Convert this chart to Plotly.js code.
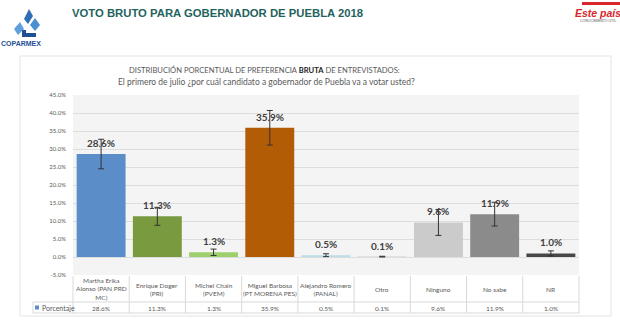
<!DOCTYPE html>
<html><head><meta charset="utf-8">
<script src="https://cdn.plot.ly/plotly-3.0.1.min.js"></script>
<style>html,body{margin:0;padding:0;background:#fff;}#chart{width:620px;height:323px;}</style>
</head><body><div id="chart"></div>
<script>
const categories = ["Martha Erika Alonso (PAN PRD MC)","Enrique Doger (PRI)","Michel Chain (PVEM)","Miguel Barbosa (PT MORENA PES)","Alejandro Romero (PANAL)","Otro","Ninguno","No sabe","NR"];
const tableLabels = ["Martha Erika<br>Alonso (PAN PRD<br>MC)","Enrique Doger<br>(PRI)","Michel Chain<br>(PVEM)","Miguel Barbosa<br>(PT MORENA PES)","Alejandro Romero<br>(PANAL)","Otro","Ninguno","No sabe","NR"];
const values = [28.6, 11.3, 1.3, 35.9, 0.5, 0.1, 9.6, 11.9, 1.0];
const errors = [4.1, 2.5, 0.9, 4.8, 0.4, 0.1, 3.6, 3.3, 0.7];
const barColors = ["#5b8ec8","#7a9a40","#9dd06c","#b35c06","#b9dde9","#a6a6a6","#cbcbcb","#8b8b8b","#474747"];
const yTicks = [-5,0,5,10,15,20,25,30,35,40,45];

const W=620,H=323, L=73, R=41, T=95, B=48;
const pw=W-L-R, ph=H-T-B;
const px = p => (p-L)/pw;
const py = p => (H-B-p)/ph;
const grid='#d9d9d9', txt='#595959';
const fnt='Lato, "Open Sans", sans-serif';

const shapes=[], ann=[];
// outer panel
shapes.push({type:'rect',xref:'paper',yref:'paper',x0:px(20),x1:px(611),y0:py(316),y1:py(56),line:{color:'#e3e3e3',width:1},fillcolor:'rgba(0,0,0,0)',layer:'below'});
// table lines
const tTop=276, tMid=302, tBot=313;
shapes.push({type:'line',xref:'paper',yref:'paper',x0:px(33),x1:1,y0:py(tMid),y1:py(tMid),line:{color:grid,width:1}});
shapes.push({type:'line',xref:'paper',yref:'paper',x0:px(33),x1:1,y0:py(tBot),y1:py(tBot),line:{color:grid,width:1}});
shapes.push({type:'line',xref:'paper',yref:'paper',x0:px(33),x1:px(33),y0:py(tBot),y1:py(tMid),line:{color:grid,width:1}});
for(let i=0;i<=categories.length;i++){
  shapes.push({type:'line',xref:'paper',yref:'paper',x0:i/categories.length,x1:i/categories.length,y0:py(tBot),y1:py(tTop),line:{color:grid,width:1}});
}
// legend key
shapes.push({type:'rect',xref:'paper',yref:'paper',x0:px(35),x1:px(39),y0:py(309.5),y1:py(305.5),fillcolor:barColors[0],line:{width:0}});
ann.push({xref:'paper',yref:'paper',x:px(40),y:py(307.5),text:'Porcentaje',showarrow:false,xanchor:'left',yanchor:'middle',font:{family:fnt,size:7,color:txt}});

categories.forEach((c,i)=>{
  ann.push({xref:'x',yref:'y',x:c,y:values[i],yshift:11,text:'<b>'+values[i].toFixed(1)+'%</b>',showarrow:false,yanchor:'middle',font:{family:fnt,size:10,color:'#404040'}});
  ann.push({xref:'x',yref:'paper',x:c,y:py(289),text:tableLabels[i],showarrow:false,yanchor:'middle',font:{family:fnt,size:6.5,color:txt}});
  ann.push({xref:'x',yref:'paper',x:c,y:py(308),text:values[i].toFixed(1)+'%',showarrow:false,yanchor:'middle',font:{family:fnt,size:6.5,color:txt}});
});

// titles
ann.push({xref:'paper',yref:'paper',x:px(70),y:py(13),text:'<b>VOTO BRUTO PARA GOBERNADOR DE PUEBLA 2018</b>',showarrow:false,xanchor:'left',yanchor:'middle',font:{family:'Liberation Sans, Arial, sans-serif',size:11.3,color:'#1f6360'}});
ann.push({xref:'paper',yref:'paper',x:px(264),y:py(70),text:'DISTRIBUCIÓN PORCENTUAL DE PREFERENCIA <b style="color:#222">BRUTA</b> DE ENTREVISTADOS:',showarrow:false,xanchor:'center',yanchor:'middle',font:{family:fnt,size:7.6,color:txt}});
ann.push({xref:'paper',yref:'paper',x:px(266),y:py(82),text:'El primero de julio ¿por cuál candidato a gobernador de Puebla va a votar usted?',showarrow:false,xanchor:'center',yanchor:'middle',font:{family:fnt,size:8.5,color:txt}});

// COPARMEX logo approximation
const blue='#2f6db5';
shapes.push({type:'path',xref:'paper',yref:'paper',path:`M ${px(24)} ${py(19)} L ${px(29)} ${py(9)} L ${px(33)} ${py(16)} L ${px(28)} ${py(24)} Z`,fillcolor:blue,line:{width:0}});
shapes.push({type:'path',xref:'paper',yref:'paper',path:`M ${px(30)} ${py(25)} L ${px(35)} ${py(18)} L ${px(40)} ${py(25)} L ${px(35)} ${py(31)} Z`,fillcolor:'#4a8fd0',line:{width:0}});
shapes.push({type:'path',xref:'paper',yref:'paper',path:`M ${px(14)} ${py(29)} L ${px(20)} ${py(22)} L ${px(24)} ${py(29)} L ${px(18)} ${py(35)} Z`,fillcolor:'#5fa0dc',line:{width:0}});
shapes.push({type:'path',xref:'paper',yref:'paper',path:`M ${px(22)} ${py(37)} L ${px(36)} ${py(37)} L ${px(36)} ${py(33)} L ${px(26)} ${py(33)} L ${px(26)} ${py(30)} L ${px(22)} ${py(30)} Z`,fillcolor:'#1f4f95',line:{width:0}});
ann.push({xref:'paper',yref:'paper',x:px(-1),y:py(44),text:'<b>COPARMEX</b>',showarrow:false,xanchor:'left',yanchor:'middle',font:{family:'Liberation Sans, Arial, sans-serif',size:7,color:'#1f4f95'}});
// Este pais logo approximation
shapes.push({type:'rect',xref:'paper',yref:'paper',x0:px(582),x1:px(620),y0:py(5),y1:py(2),fillcolor:'#d8262c',line:{width:0}});
ann.push({xref:'paper',yref:'paper',x:px(573),y:py(12.5),text:'<b><i>Este país</i></b>',showarrow:false,xanchor:'left',yanchor:'middle',font:{family:'Liberation Sans, Arial, sans-serif',size:10.5,color:'#d8262c'}});
ann.push({xref:'paper',yref:'paper',x:px(578),y:py(21),text:'CONOCIMIENTO ÚTIL',showarrow:false,xanchor:'left',yanchor:'middle',font:{family:'Liberation Sans, Arial, sans-serif',size:3.5,color:'#555'}});

const data=[{type:'bar',x:categories,y:values,marker:{color:barColors,line:{width:0}},
  error_y:{type:'data',array:errors,visible:true,color:'#333',thickness:1,width:3},
  hoverinfo:'none'}];
const layout={width:W,height:H,margin:{l:L,r:R,t:T,b:B},paper_bgcolor:'rgba(0,0,0,0)',plot_bgcolor:'#f4f4f4',
  showlegend:false,bargap:0.13,
  xaxis:{type:'category',showticklabels:false,showgrid:false,zeroline:false,showline:false,ticks:''},
  yaxis:{range:[-5,45],tickvals:yTicks,ticktext:yTicks.map(v=>v.toFixed(1)+'%'),showgrid:true,gridcolor:'#dddddd',gridwidth:1,zeroline:false,showline:false,ticks:'',
    tickfont:{family:fnt,size:6,color:txt},ticklabelstandoff:6},
  shapes:shapes,annotations:ann,font:{family:fnt}};
Plotly.newPlot('chart',data,layout,{displayModeBar:false,staticPlot:true});
</script></body></html>
